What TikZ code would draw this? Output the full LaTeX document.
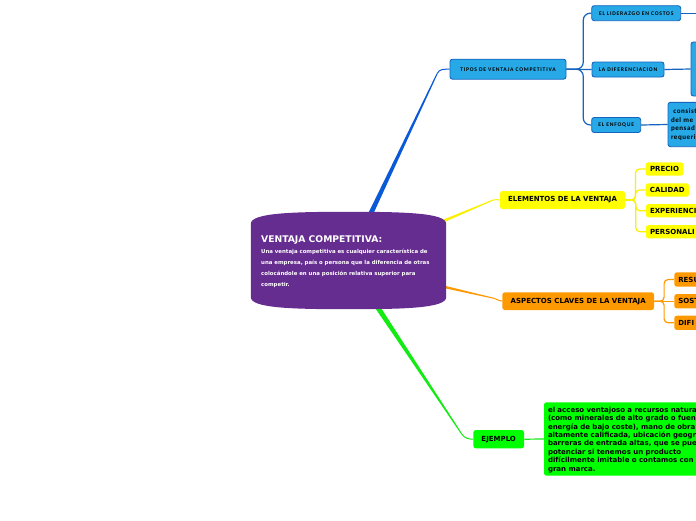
\documentclass[tikz,border=0pt]{standalone}
\usepackage{fontspec}
\setmainfont{DejaVu Sans}
\newfontfamily\carlsp[LetterSpace=14]{Carlito}
\newfontfamily\carlmid[LetterSpace=8]{Carlito}
\usetikzlibrary{calc}
\definecolor{mpurple}{RGB}{102,45,145}
\definecolor{bfill}{RGB}{38,169,230}
\definecolor{bline}{RGB}{21,101,192}
\definecolor{bconn}{RGB}{10,90,215}
\definecolor{yel}{RGB}{255,255,0}
\definecolor{yline}{RGB}{250,240,0}
\definecolor{org}{RGB}{255,153,0}
\definecolor{grn}{RGB}{0,255,0}
\definecolor{gline}{RGB}{20,235,20}
\newcommand\taperline[5]{\fill[#1] ($(#2)!#4!90:(#3)$) -- ($(#3)!#5!-90:(#2)$) -- ($(#3)!#5!90:(#2)$) -- ($(#2)!#4!-90:(#3)$) -- cycle;}
\tikzset{
  bluebox/.style={draw=bline, line width=0.9pt, fill=bfill, rounded corners=2.5pt, inner sep=0pt, text=black, font=\carlsp\bfseries\fontsize{5.6}{6.5}\selectfont},
  yelbox/.style={fill=yel, rounded corners=2.5pt, inner sep=0pt, text=black, font=\bfseries\fontsize{7}{8}\selectfont},
  orgbox/.style={fill=org, rounded corners=2.5pt, inner sep=0pt, text=black, font=\bfseries\fontsize{7}{8}\selectfont},
  grnbox/.style={fill=grn, rounded corners=2.5pt, inner sep=0pt, text=black, font=\bfseries\fontsize{7}{8}\selectfont},
  bbranch/.style={draw=bline, line width=1.2pt, rounded corners=7pt},
  ybranch/.style={draw=yline, line width=1.2pt, rounded corners=4pt},
  obranch/.style={draw=org, line width=1.2pt, rounded corners=4pt},
}
\begin{document}
\begin{tikzpicture}[x=1pt,y=-1pt]
\useasboundingbox (0,0) rectangle (696,520);
\clip (0,0) rectangle (696,520);
\fill[white] (0,0) rectangle (696,520);

% main node placeholder
\node[minimum width=195pt, minimum height=97pt, inner sep=0pt] (main) at (348.5,260.5) {};

% blue subtree nodes
\node[bluebox, minimum width=116pt, minimum height=20pt] (tipos) at (508,69.2) {TIPOS DE VENTAJA COMPETITIVA};
\node[bluebox, minimum width=89pt, minimum height=15pt] (lider) at (636.2,13.2) {EL LIDERAZGO EN COSTOS};
\node[bluebox, minimum width=72pt, minimum height=15pt] (dif) at (628,69.5) {LA DIFERENCIACION};
\node[bluebox, minimum width=49pt, minimum height=15pt] (enf) at (616.2,125) {EL ENFOQUE};
\node[bluebox, minimum width=49pt, minimum height=54pt] (difbox) at (715.5,69) {};
\node[bluebox, font=\carlmid\bfseries\fontsize{7}{8.5}\selectfont, text width=65pt, inner xsep=3pt, align=left, minimum height=44.4pt] (consist) at (703.5,124.5) {\ consist\\del me\\pensad\\requeri};
\coordinate (lidend) at (705,13.2);

% yellow subtree nodes
\node[yelbox, minimum width=125pt, minimum height=18pt] (elem) at (562.5,200) {ELEMENTOS DE LA VENTAJA};
\node[yelbox, minimum width=37.6pt, minimum height=13.4pt] (precio) at (664.5,169) {PRECIO};
\node[yelbox, minimum width=43.3pt, minimum height=13.4pt] (calidad) at (667.3,190) {CALIDAD};
\node[yelbox, text width=80pt, inner xsep=4pt, align=left, minimum height=13.4pt] (exper) at (690,210.7) {EXPERIENCI};
\node[yelbox, text width=80pt, inner xsep=4pt, align=left, minimum height=13.4pt] (person) at (690,231.7) {PERSONALI};

% orange subtree nodes
\node[orgbox, minimum width=151.7pt, minimum height=17.7pt] (asp) at (578.2,301.2) {ASPECTOS CLAVES DE LA VENTAJA};
\node[orgbox, text width=60pt, inner xsep=4pt, align=left, minimum height=14.3pt] (resu) at (708.3,279.5) {RESU};
\node[orgbox, text width=60pt, inner xsep=4pt, align=left, minimum height=14.3pt] (sost) at (708.3,301.2) {SOST};
\node[orgbox, text width=60pt, inner xsep=4pt, align=left, minimum height=14.3pt] (difi) at (708.3,322.8) {DIFI};

% green subtree nodes
\node[grnbox, minimum width=50.7pt, minimum height=18.3pt] (ejemplo) at (498.7,439.2) {EJEMPLO};
\node[grnbox, font=\bfseries\fontsize{7}{8.43}\selectfont, text width=190pt, inner xsep=4pt, align=left, minimum height=73.4pt] (ejtext) at (643,439) {\rule{0pt}{7pt}el acceso ventajoso a recursos natura\\(como minerales de alto grado o fuen\\energía de bajo coste), mano de obra\\altamente calificada, ubicación geogra\\barreras de entrada altas, que se pue\\potenciar si tenemos un producto\\difícilmente imitable o contamos con\\gran marca.};

% branch connectors
\draw[bbranch] (tipos.east) -| ($(lider.west)+(-8,0)$) -- (lider.west);
\draw[bbranch] (tipos.east) -- (dif.west);
\draw[bbranch] (tipos.east) -| ($(enf.west)+(-8,0)$) -- (enf.west);
\draw[draw=bline, line width=1.2pt] (lider.east) -- (lidend);
\draw[draw=bline, line width=1.2pt] (dif.east) -- (difbox.west);
\draw[draw=bline, line width=1.2pt] (enf.east) -- (consist.west);

\draw[ybranch] (elem.east) -| ($(precio.west)+(-10,0)$) -- (precio.west);
\draw[ybranch] (elem.east) -| ($(calidad.west)+(-10,0)$) -- (calidad.west);
\draw[ybranch] (elem.east) -| ($(exper.west)+(-10,0)$) -- (exper.west);
\draw[ybranch] (elem.east) -| ($(person.west)+(-10,0)$) -- (person.west);

\draw[obranch] (asp.east) -| ($(resu.west)+(-10,0)$) -- (resu.west);
\draw[obranch] (asp.east) -- (sost.west);
\draw[obranch] (asp.east) -| ($(difi.west)+(-10,0)$) -- (difi.west);

\draw[draw=gline, line width=1.2pt] (ejemplo.east) -- (ejtext.west);

% main tapered connectors
\coordinate (bs) at (367.4,220.7); \coordinate (be) at (437.3,73.3);
\coordinate (ys) at (434.3,224.8); \coordinate (ye) at (493,200.1);
\coordinate (os) at (438.2,285.5); \coordinate (oe) at (494,298.3);
\coordinate (gs) at (372.8,300); \coordinate (ge) at (461.7,434);
\taperline{bconn}{bs}{be}{2.5pt}{0.5pt}
\draw[bconn, line width=1pt] (be) to[out=65,in=180] (tipos.west);
\taperline{yline}{ys}{ye}{1.5pt}{0.5pt}
\draw[yline, line width=1pt] (ye) to[out=23,in=180] (elem.west);
\taperline{org}{os}{oe}{1.3pt}{0.5pt}
\draw[org, line width=1pt] (oe) to[out=-13,in=180] (asp.west);
\taperline{gline}{gs}{ge}{2.6pt}{0.5pt}
\draw[gline, line width=1pt] (ge) to[out=-56,in=180] (ejemplo.west);

% main shape
\fill[mpurple] ($(main.north west)+(0,12)$) -- ($(main.south west)+(0,-12)$)
  .. controls ($(main.south west)+(0,-1)$) and ($(main.south)+(-55,0)$) .. (main.south)
  .. controls ($(main.south)+(55,0)$) and ($(main.south east)+(0,-1)$) .. ($(main.south east)+(0,-12)$)
  -- ($(main.north east)+(0,12)$)
  .. controls ($(main.north east)+(0,1)$) and ($(main.north)+(55,0)$) .. (main.north)
  .. controls ($(main.north)+(-55,0)$) and ($(main.north west)+(0,1)$) .. cycle;
\node[anchor=base west, inner sep=0pt, text=white, font=\bfseries\fontsize{9.2}{11}\selectfont] (maintitle) at (261,242.3) {VENTAJA COMPETITIVA:};
\node[anchor=base west, inner sep=0pt, text=white, align=left, font=\bfseries\fontsize{5.4}{10.8}\selectfont] (maindesc) at (261,286.3) {Una ventaja competitiva es cualquier característica de\\una empresa, país o persona que la diferencia de otras\\colocándole en una posición relativa superior para\\competir.};
\end{tikzpicture}
\end{document}
